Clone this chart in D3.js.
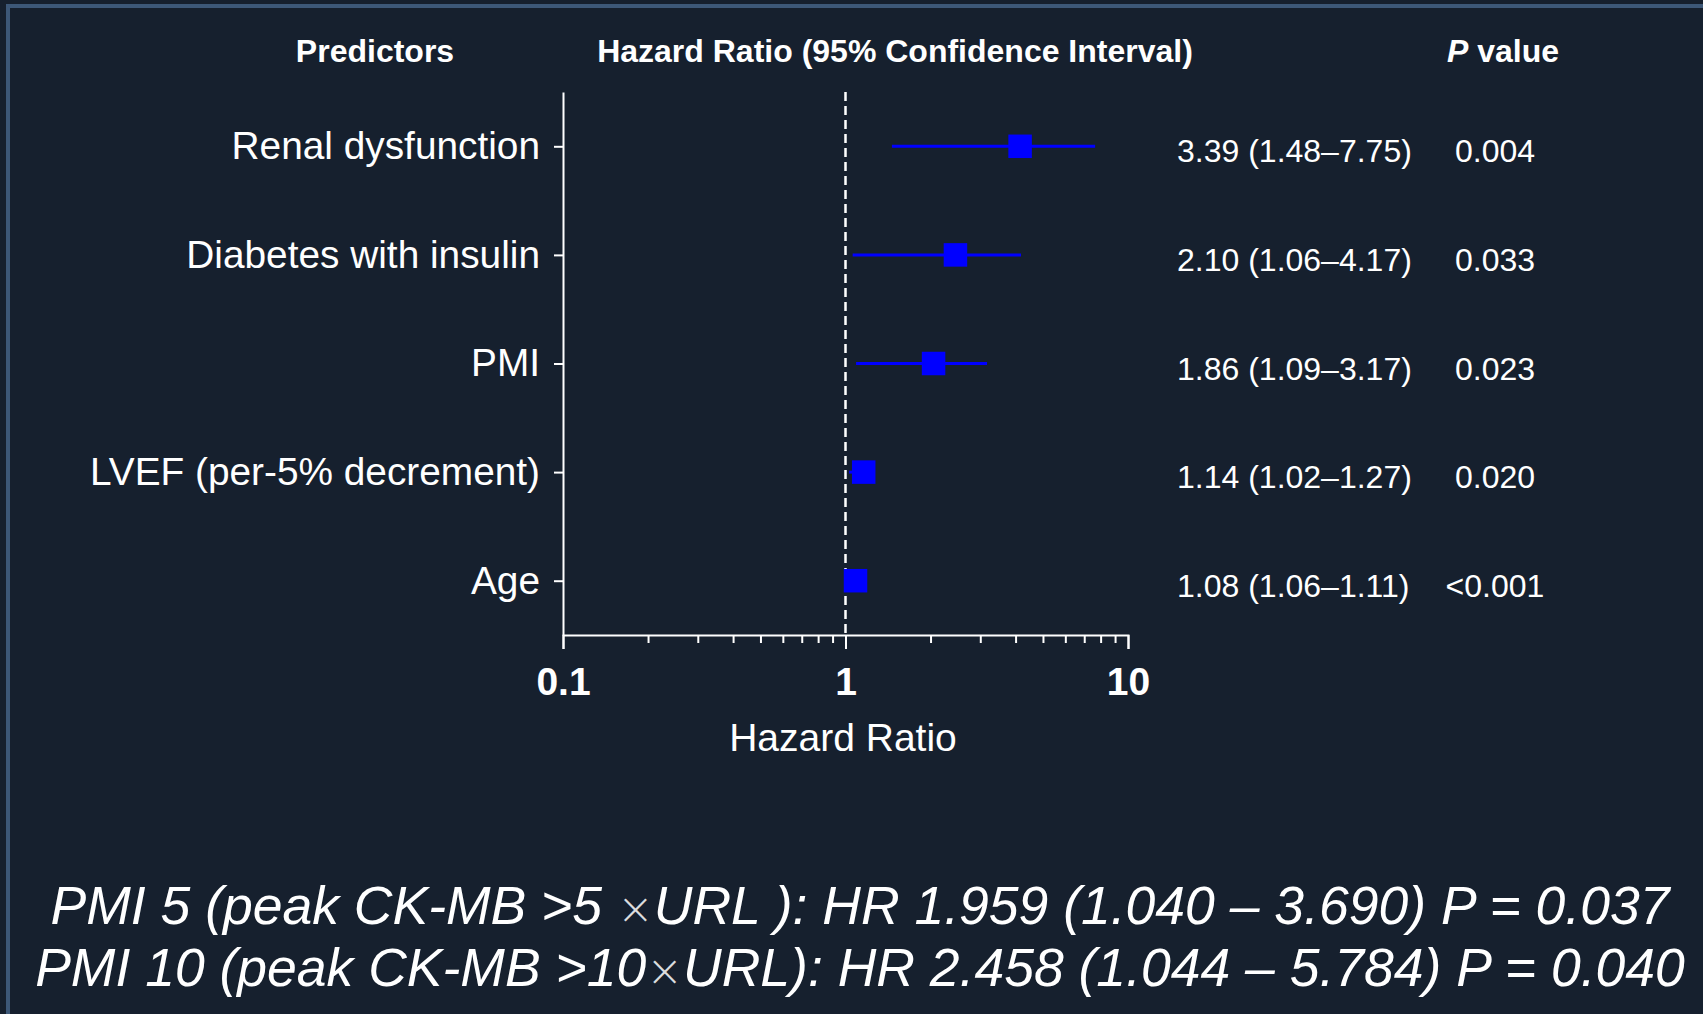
<!DOCTYPE html>
<html>
<head>
<meta charset="utf-8">
<script src="https://cdn.jsdelivr.net/npm/d3@7"></script>
<style>
  body { margin: 0; background: #16202e; }
  svg { display: block; font-family: "Liberation Sans", Arial, sans-serif; }
</style>
</head>
<body>
<div class="chart"></div>
<script>
// predictors, top to bottom
const predictors = ['Renal dysfunction', 'Diabetes with insulin', 'PMI', 'LVEF (per-5% decrement)', 'Age'];
// hazard ratio as plotted, and the CI whiskers
const hrPoint = [4.15, 2.45, 2.05, 1.16, 1.085];
const ciLow = [1.46, 1.06, 1.09, 1.03, 1.06];
const ciHigh = [7.65, 4.18, 3.17, 1.27, 1.11];
// right-hand columns
const hrText = ['3.39 (1.48\u20137.75)', '2.10 (1.06\u20134.17)', '1.86 (1.09\u20133.17)', '1.14 (1.02\u20131.27)', '1.08 (1.06\u20131.11)'];
const pText = ['0.004', '0.033', '0.023', '0.020', '<0.001'];
// log axis ticks
const xTicks = [0.1, 0.2, 0.3, 0.4, 0.5, 0.6, 0.7, 0.8, 0.9, 1, 2, 3, 4, 5, 6, 7, 8, 9, 10];
const xMajor = [0.1, 1, 10];
// footnote lines
const notes = [
    ['PMI 5 (peak CK-MB >5 ', '\u00d7', 'URL ): HR 1.959 (1.040 \u2013 3.690) P = 0.037'],
    ['PMI 10 (peak CK-MB >10', '\u00d7', 'URL): HR 2.458 (1.044 \u2013 5.784) P = 0.040']
];

function main() {
    const W = 1703, H = 1014;
    const svg = d3.select('.chart')
        .append('svg')
        .attr('width', W)
        .attr('height', H);

    svg.append('rect')
        .attr('width', W).attr('height', H)
        .attr('fill', '#16202e');

    // slide frame
    svg.append('rect')
        .attr('x', 8).attr('y', 6)
        .attr('width', W).attr('height', H)
        .attr('fill', 'none')
        .attr('stroke', '#3d5878')
        .attr('stroke-width', 4);

    const x = d3.scaleLog().domain([0.1, 10]).range([563, 1128]);
    const y = d3.scalePoint().domain(predictors).range([92, 635]).padding(0.5);
    const base = 635;

    // headers
    const head = svg.append('g')
        .attr('fill', 'white')
        .attr('font-weight', 'bold')
        .attr('font-size', 32)
        .attr('text-anchor', 'middle');
    head.append('text').attr('x', 375).attr('y', 62).text('Predictors');
    head.append('text').attr('x', 895).attr('y', 62).text('Hazard Ratio (95% Confidence Interval)');
    const pv = head.append('text').attr('x', 1503).attr('y', 62);
    pv.append('tspan').attr('font-style', 'italic').text('P');
    pv.append('tspan').text(' value');

    // y axis with labels
    const yAxis = svg.append('g')
        .attr('transform', 'translate(563,0)')
        .call(d3.axisLeft(y).tickSize(9).tickSizeOuter(0).tickPadding(14));
    yAxis.selectAll('path, line').attr('stroke', 'white').attr('stroke-width', 2);
    yAxis.selectAll('text')
        .attr('fill', 'white')
        .attr('font-size', 38.8)
        .attr('font-family', '"Liberation Sans", Arial, sans-serif');

    // x axis (log)
    const xAxis = svg.append('g')
        .attr('transform', `translate(0,${base})`)
        .call(d3.axisBottom(x)
            .tickValues(xTicks)
            .tickFormat(d => xMajor.includes(d) ? String(d) : '')
            .tickSizeOuter(0)
            .tickSize(14)
            .tickPadding(18));
    xAxis.selectAll('path, line').attr('stroke', 'white').attr('stroke-width', 2);
    xAxis.selectAll('.tick line')
        .attr('y2', d => xMajor.includes(d) ? 14 : 8);
    xAxis.selectAll('text')
        .attr('fill', 'white')
        .attr('font-size', 39)
        .attr('font-weight', 'bold')
        .attr('font-family', '"Liberation Sans", Arial, sans-serif');

    svg.append('text')
        .attr('x', 843).attr('y', 751)
        .attr('text-anchor', 'middle')
        .attr('fill', 'white')
        .attr('font-size', 39)
        .text('Hazard Ratio');

    // reference line at HR = 1
    svg.append('line')
        .attr('x1', x(1)).attr('x2', x(1))
        .attr('y1', 92).attr('y2', base)
        .attr('stroke', 'white')
        .attr('stroke-width', 2.5)
        .attr('stroke-dasharray', '9,5');

    const rows = predictors.map((p, i) => ({
        name: p, hr: hrPoint[i], lo: ciLow[i], hi: ciHigh[i], txt: hrText[i], p: pText[i]
    }));

    // CI whiskers
    svg.selectAll('.ci')
        .data(rows)
        .enter()
        .append('line')
        .attr('class', 'ci')
        .attr('x1', d => x(d.lo))
        .attr('x2', d => x(d.hi))
        .attr('y1', d => y(d.name))
        .attr('y2', d => y(d.name))
        .attr('stroke', '#0000ff')
        .attr('stroke-width', 3);

    // point estimates
    const sq = 23.5;
    svg.selectAll('.pt')
        .data(rows)
        .enter()
        .append('rect')
        .attr('class', 'pt')
        .attr('x', d => x(d.hr) - sq / 2)
        .attr('y', d => y(d.name) - sq / 2)
        .attr('width', sq)
        .attr('height', sq)
        .attr('fill', '#0000ff');

    // HR (CI) column
    svg.selectAll('.hrtxt')
        .data(rows)
        .enter()
        .append('text')
        .attr('class', 'hrtxt')
        .attr('x', 1177)
        .attr('y', d => y(d.name) + 16)
        .attr('fill', 'white')
        .attr('font-size', 32)
        .text(d => d.txt);

    // P value column
    svg.selectAll('.ptxt')
        .data(rows)
        .enter()
        .append('text')
        .attr('class', 'ptxt')
        .attr('x', 1495)
        .attr('y', d => y(d.name) + 16)
        .attr('text-anchor', 'middle')
        .attr('fill', 'white')
        .attr('font-size', 32)
        .text(d => d.p);

    // footnotes
    const noteY = [924, 986];
    notes.forEach((n, i) => {
        const t = svg.append('text')
            .attr('x', 860)
            .attr('y', noteY[i])
            .attr('text-anchor', 'middle')
            .attr('fill', 'white')
            .attr('font-size', 53.5)
            .attr('font-style', 'italic');
        t.append('tspan').text(n[0]);
        t.append('tspan')
            .attr('font-family', '"DejaVu Sans", sans-serif')
            .attr('font-weight', 200)
            .attr('font-size', 44)
            .attr('font-style', 'normal')
            .attr('fill-opacity', 0.85)
            .text(n[1]);
        t.append('tspan').text(n[2]);
    });
}

main();
</script>
</body>
</html>
